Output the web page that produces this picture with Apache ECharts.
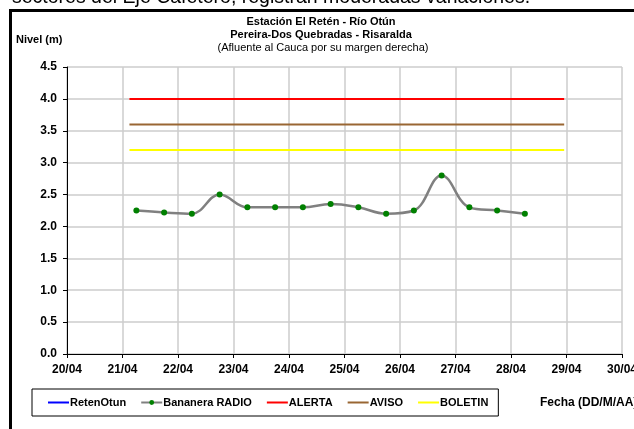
<!DOCTYPE html>
<html>
<head>
<meta charset="utf-8">
<script src="https://cdn.jsdelivr.net/npm/echarts@6/dist/echarts.min.js"></script>
<style>
html,body{margin:0;padding:0;background:#fff;}
#c{width:634px;height:429px;}
</style>
</head>
<body>
<div id="c"></div>
<script>
// ---- data ----
const tickLabels = ['20/04','21/04','22/04','23/04','24/04','25/04','26/04','27/04','28/04','29/04','30/04'];
const yTicks = [0,0.5,1,1.5,2,2.5,3,3.5,4,4.5];
const bananeraTimes = ['21/04 06:00','21/04 18:00','22/04 06:00','22/04 18:00','23/04 06:00','23/04 18:00','24/04 06:00','24/04 18:00','25/04 06:00','25/04 18:00','26/04 06:00','26/04 18:00','27/04 06:00','27/04 18:00','28/04 06:00'];
const bananeraValues = [2.25,2.22,2.20,2.50,2.30,2.30,2.30,2.35,2.30,2.20,2.25,2.80,2.30,2.25,2.20];
const thresholdTimes = ['21/04 03:00','28/04 23:00'];
const alertaValues = [4.0,4.0];
const avisoValues = [3.6,3.6];
const boletinValues = [3.2,3.2];
const retenOtunValues = [];

function toDay(s){
  const [d, t] = s.split(' ');
  const day = parseInt(d.split('/')[0],10);
  const [h, m] = t.split(':').map(Number);
  return (day - 20) + (h + m/60)/24;
}
function pairs(times, vals){ return times.map((t,i)=>[toDay(t), vals[i]]); }

const FONT = 'Liberation Sans, Arial, sans-serif';
const chart = echarts.init(document.getElementById('c'), null, {renderer:'canvas'});
chart.setOption({
  animation:false,
  backgroundColor:'#fff',
  grid:{left:67,right:12,top:67,bottom:75,containLabel:false,outerBoundsMode:'none'},
  xAxis:{
    type:'value',min:0,max:10,interval:1,
    axisLine:{show:true,onZero:false,lineStyle:{color:'#000',width:1}},
    axisTick:{show:true,length:4,lineStyle:{color:'#000'}},
    splitLine:{show:true,lineStyle:{color:'#cccccc',width:1.5}},
    axisLabel:{showMaxLabel:true,showMinLabel:true,margin:10,color:'#000',fontWeight:'bold',fontSize:12,fontFamily:FONT,
      formatter:v=>tickLabels[Math.round(v)]}
  },
  yAxis:{
    type:'value',min:yTicks[0],max:yTicks[yTicks.length-1],interval:0.5,
    axisLine:{show:true,lineStyle:{color:'#000',width:1}},
    axisTick:{show:true,length:4,lineStyle:{color:'#000'}},
    splitLine:{show:true,lineStyle:{color:'#cccccc',width:1.5}},
    axisLabel:{margin:10,color:'#000',fontWeight:'bold',fontSize:12,fontFamily:FONT,formatter:v=>v.toFixed(1)}
  },
  legend:{
    left:32,top:389,orient:'horizontal',
    padding:[8,10,8,15],itemGap:14,itemWidth:21,itemHeight:6,
    borderColor:'#000',borderWidth:1,
    textStyle:{color:'#000',fontWeight:'bold',fontSize:11,fontFamily:FONT,padding:[0,0,0,-4]},
    data:[
      {name:'RetenOtun',itemStyle:{opacity:0}},
      {name:'Bananera RADIO'},
      {name:'ALERTA',itemStyle:{opacity:0}},
      {name:'AVISO',itemStyle:{opacity:0}},
      {name:'BOLETIN',itemStyle:{opacity:0}}
    ]
  },
  series:[
    {name:'RetenOtun',type:'line',data:pairs([],retenOtunValues),symbol:'none',itemStyle:{color:'#0000ff'},lineStyle:{color:'#0000ff',width:3}},
    {name:'Bananera RADIO',type:'line',data:pairs(bananeraTimes,bananeraValues),smooth:0.4,
      symbol:'circle',symbolSize:6,itemStyle:{color:'#008000'},lineStyle:{color:'#808080',width:2.5},z:5},
    {name:'ALERTA',type:'line',data:pairs(thresholdTimes,alertaValues),symbol:'none',itemStyle:{color:'#ff0000'},lineStyle:{color:'#ff0000',width:2}},
    {name:'AVISO',type:'line',data:pairs(thresholdTimes,avisoValues),symbol:'none',itemStyle:{color:'#996633'},lineStyle:{color:'#996633',width:2}},
    {name:'BOLETIN',type:'line',data:pairs(thresholdTimes,boletinValues),symbol:'none',itemStyle:{color:'#ffff00'},lineStyle:{color:'#ffff00',width:2}}
  ],
  graphic:[
    {type:'text',left:12,top:-12,style:{text:'sectores del Eje Cafetero, registran moderadas variaciones.',font:'19.5px '+FONT,fill:'#000'}},
    {type:'rect',shape:{x:10.5,y:10.5,width:800,height:600},style:{fill:'none',stroke:'#000',lineWidth:3},silent:true},
    {type:'text',x:321,y:22,style:{text:'Estación El Retén - Río Otún',font:'bold 11px '+FONT,fill:'#000',align:'center',verticalAlign:'middle'}},
    {type:'text',x:321,y:35,style:{text:'Pereira-Dos Quebradas - Risaralda',font:'bold 11px '+FONT,fill:'#000',align:'center',verticalAlign:'middle'}},
    {type:'text',x:323,y:48,style:{text:'(Afluente al Cauca por su margen derecha)',font:'11px '+FONT,fill:'#000',align:'center',verticalAlign:'middle'}},
    {type:'text',x:16,y:40,style:{text:'Nivel (m)',font:'bold 11px '+FONT,fill:'#000',verticalAlign:'middle'}},
    {type:'text',x:540,y:403,style:{text:'Fecha (DD/M/AA)',font:'bold 12px '+FONT,fill:'#000',verticalAlign:'middle'}}
  ]
});
</script>
</body>
</html>
